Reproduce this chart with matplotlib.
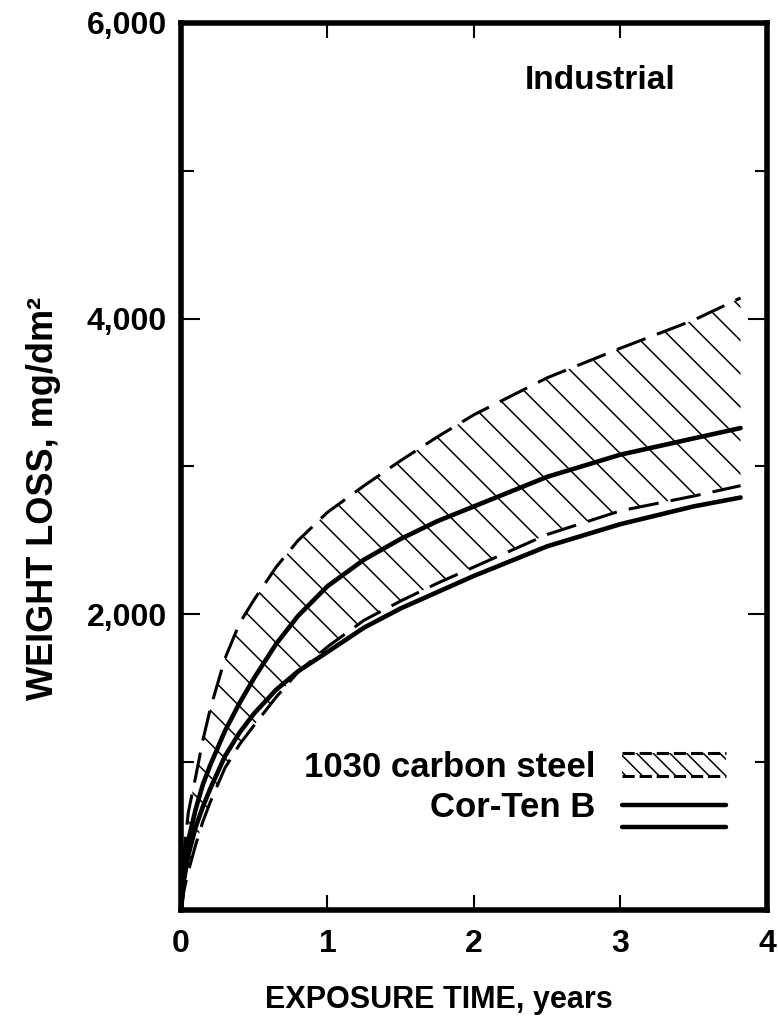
import matplotlib
matplotlib.use("Agg")
import matplotlib.pyplot as plt
from matplotlib.legend_handler import HandlerBase
from matplotlib.lines import Line2D
from matplotlib.patches import Rectangle
from matplotlib.ticker import FixedLocator, FuncFormatter

plt.rcParams["font.family"] = ["Liberation Sans", "DejaVu Sans"]
plt.rcParams["font.weight"] = "bold"
plt.rcParams["hatch.linewidth"] = 1.1

# exposure time (years) and weight loss (mg/dm2)
years = [0, 0.02, 0.05, 0.1, 0.15, 0.2, 0.3, 0.4, 0.5, 0.65, 0.8, 1.0, 1.25, 1.5, 1.75, 2.0, 2.5, 3.0, 3.5, 3.82]
carbon_hi = [0, 380, 660, 900, 1150, 1360, 1700, 1940, 2100, 2320, 2500, 2690, 2870, 3040, 3200, 3350, 3600, 3800, 3990, 4140]
carbon_lo = [0, 130, 260, 440, 600, 730, 960, 1120, 1250, 1440, 1610, 1780, 1960, 2090, 2210, 2320, 2540, 2700, 2800, 2870]
corten_hi = [0, 260, 470, 680, 850, 980, 1210, 1400, 1570, 1800, 1990, 2190, 2370, 2510, 2630, 2730, 2930, 3080, 3190, 3260]
corten_lo = [0, 200, 370, 560, 700, 820, 1040, 1200, 1330, 1490, 1615, 1745, 1910, 2040, 2150, 2260, 2460, 2610, 2730, 2790]

x_ticks = [0, 1, 2, 3, 4]
y_major = [2000, 4000, 6000]
y_minor = [1000, 3000, 5000]

DASH = (0, (10, 4))


class BandKey(HandlerBase):
    """hatched box with dashed top/bottom edge"""
    def create_artists(self, legend, orig, xd, yd, w, h, fs, trans):
        x0, y0 = -xd, -yd
        box = Rectangle((x0, y0), w, h, facecolor="none", edgecolor="black",
                        hatch="\\\\", lw=0, transform=trans)
        top = Line2D([x0, x0 + w], [y0 + h, y0 + h], ls=(0, (4, 1.6)), lw=2.2,
                     color="black", transform=trans)
        bot = Line2D([x0, x0 + w], [y0, y0], ls=(0, (4, 1.6)), lw=2.2,
                     color="black", transform=trans)
        return [box, top, bot]


class DoubleLineKey(HandlerBase):
    def create_artists(self, legend, orig, xd, yd, w, h, fs, trans):
        x0, y0 = -xd, -yd
        return [Line2D([x0, x0 + w], [y, y], lw=3.2, color="black",
                       solid_capstyle="round", transform=trans)
                for y in (y0 + 0.5 * h, y0 - 0.45 * h)]


fig = plt.figure(figsize=(7.78, 10.35), dpi=100)
ax = fig.add_axes([0.2326, 0.1208, 0.7532, 0.857])

ax.fill_between(years, carbon_lo, carbon_hi, facecolor="none", edgecolor="black",
                hatch="\\", linewidth=0)
ax.plot(years, carbon_hi, color="black", lw=2.2, ls=DASH)
ax.plot(years, carbon_lo, color="black", lw=2.2, ls=DASH)
ax.plot(years, corten_hi, color="black", lw=3.3, solid_capstyle="round")
ax.plot(years, corten_lo, color="black", lw=3.3, solid_capstyle="round")

ax.set_xlim(0, 4)
ax.set_ylim(0, 6000)
ax.xaxis.set_major_locator(FixedLocator(x_ticks))
ax.yaxis.set_major_locator(FixedLocator(y_major))
ax.yaxis.set_minor_locator(FixedLocator(y_minor))
ax.yaxis.set_major_formatter(FuncFormatter(lambda v, p: f"{int(v):,}"))

for s in ax.spines.values():
    s.set_linewidth(4)
ax.tick_params(axis="x", which="major", direction="in", length=11, width=1.5,
               top=True, labelsize=23, pad=14)
ax.tick_params(axis="y", which="major", direction="in", length=14, width=1.5,
               right=True, labelsize=23, pad=10)
ax.tick_params(axis="y", which="minor", direction="in", length=9, width=1.5,
               right=True)

ax.set_xlabel("EXPOSURE TIME, years", fontsize=22, fontweight="bold", va="center")
ax.xaxis.set_label_coords(0.44, -0.101)
ax.set_ylabel("WEIGHT LOSS, mg/dm²", fontsize=26, fontweight="bold", va="center")
ax.yaxis.set_label_coords(-0.234, 0.4645)

ax.text(0.716, 0.935, "Industrial", transform=ax.transAxes, fontsize=24,
        fontweight="bold", ha="center", va="center")

band_h = Rectangle((0, 0), 1, 1)
pair_h = Line2D([], [])
ax.legend([band_h, pair_h], ["1030 carbon steel", "Cor-Ten B"],
          handler_map={Rectangle: BandKey(), Line2D: DoubleLineKey()},
          loc="center right", bbox_to_anchor=(0.93, 0.138), frameon=False,
          markerfirst=False, fontsize=25, handlelength=3.0, handleheight=0.65,
          handletextpad=0.75, labelspacing=0.22, borderpad=0, borderaxespad=0)

fig.savefig("out.png", dpi=100)
